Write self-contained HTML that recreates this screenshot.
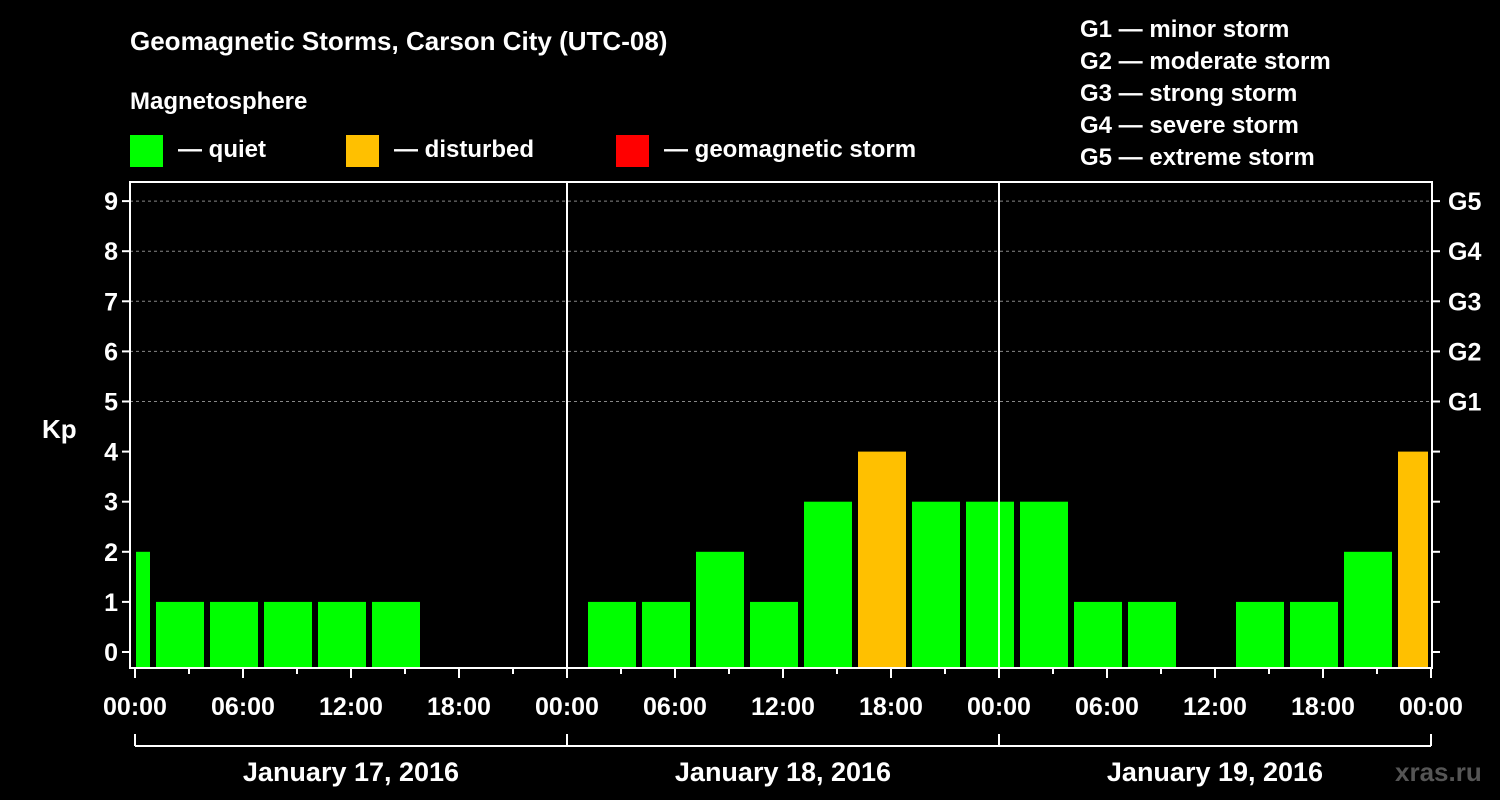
<!DOCTYPE html>
<html><head><meta charset="utf-8"><style>
body{margin:0;background:#000;}
svg{display:block;font-family:"Liberation Sans",sans-serif;font-weight:bold;}
</style></head><body>
<svg id="c" width="1500" height="800" xmlns="http://www.w3.org/2000/svg">
<rect width="1500" height="800" fill="#000"/>
<text x="130" y="50" fill="#fff" font-size="26">Geomagnetic Storms, Carson City (UTC-08)</text>
<text x="130" y="109" fill="#fff" font-size="24">Magnetosphere</text>
<g><rect x="130" y="135" width="33" height="32" fill="#00ff00"/><text x="178" y="157" fill="#fff" font-size="24">— quiet</text></g>
<g><rect x="346" y="135" width="33" height="32" fill="#ffc000"/><text x="394" y="157" fill="#fff" font-size="24">— disturbed</text></g>
<g><rect x="616" y="135" width="33" height="32" fill="#ff0000"/><text x="664" y="157" fill="#fff" font-size="24">— geomagnetic storm</text></g>
<g fill="#fff" font-size="24">
<text x="1080" y="37">G1 — minor storm</text><text x="1080" y="69">G2 — moderate storm</text><text x="1080" y="101">G3 — strong storm</text><text x="1080" y="133">G4 — severe storm</text><text x="1080" y="165">G5 — extreme storm</text></g>
<text x="42" y="438" fill="#fff" font-size="26">Kp</text>
<text x="1395" y="781" fill="#555" font-size="26">xras.ru</text>
<g id="g"></g>
</svg>
<script>
const slotHours=[-2,1,4,7,10,13,16,19,22,25,28,31,34,37,40,43,46,49,52,55,58,61,64,67,70];
const kpValues=[2,1,1,1,1,1,0,0,0,1,1,2,1,3,4,3,3,3,1,1,0,1,1,2,4];
const yTicks=[0,1,2,3,4,5,6,7,8,9];
const gLabels=["G1","G2","G3","G4","G5"];
const xTickLabels=["00:00","06:00","12:00","18:00","00:00","06:00","12:00","18:00","00:00","06:00","12:00","18:00","00:00"];
const dateLabels=["January 17, 2016","January 18, 2016","January 19, 2016"];
const NS="http://www.w3.org/2000/svg";
const L=130,R=1432,T=182,B=668,X0=135;
const x=h=>X0+h*18;
const y=v=>652-v*50.1;
const g=document.getElementById('g');
function mk(t,a){const e=document.createElementNS(NS,t);for(const k in a)e.setAttribute(k,a[k]);g.appendChild(e);return e;}
// grid
for(let v=5;v<=9;v++){const e=mk('line',{x1:L,x2:R,y1:y(v),y2:y(v),stroke:'#888','stroke-dasharray':'3,3'});

}
// bars
slotHours.forEach((h,i)=>{const v=kpValues[i];if(v<=0)return;
let x1=Math.max(x(h)+3,L+6),x2=Math.min(x(h)+51,R-4);
const e=mk('rect',{x:x1,y:y(v),width:x2-x1,height:B-y(v),fill:v>=5?'#ff0000':(v>=4?'#ffc000':'#00ff00')});

});
// day separators
[24,48].forEach(h=>{const e=mk('line',{x1:x(h),x2:x(h),y1:T,y2:B,stroke:'#fff','stroke-width':2});

});
const fr=mk('rect',{x:L,y:T,width:R-L,height:B-T,fill:'none',stroke:'#fff','stroke-width':2});


yTicks.forEach(v=>{mk('line',{x1:L-8,x2:L,y1:y(v),y2:y(v),stroke:'#fff','stroke-width':2});mk('line',{x1:R,x2:R+8,y1:y(v),y2:y(v),stroke:'#fff','stroke-width':2});
const t=mk('text',{x:L-12,y:y(v)+9,fill:'#fff','font-size':25,'text-anchor':'end'});t.textContent=v;

});
gLabels.forEach((s,i)=>{const t=mk('text',{x:R+16,y:y(i+5)+9,fill:'#fff','font-size':25});t.textContent=s;

});
for(let h=0;h<=72;h+=3){mk('line',{x1:x(h),x2:x(h),y1:B,y2:B+(h%6?6:10),stroke:'#fff','stroke-width':2});}
xTickLabels.forEach((s,i)=>{const t=mk('text',{x:x(i*6),y:715,fill:'#fff','font-size':25,'text-anchor':'middle'});t.textContent=s;

});
mk('line',{x1:x(0),x2:x(72),y1:746,y2:746,stroke:'#fff','stroke-width':2});
[0,24,48,72].forEach(h=>mk('line',{x1:x(h),x2:x(h),y1:734,y2:746,stroke:'#fff','stroke-width':2}));
dateLabels.forEach((s,i)=>{const t=mk('text',{x:x(i*24+12),y:781,fill:'#fff','font-size':27,'text-anchor':'middle'});t.textContent=s;

});
</script>
</body></html>
